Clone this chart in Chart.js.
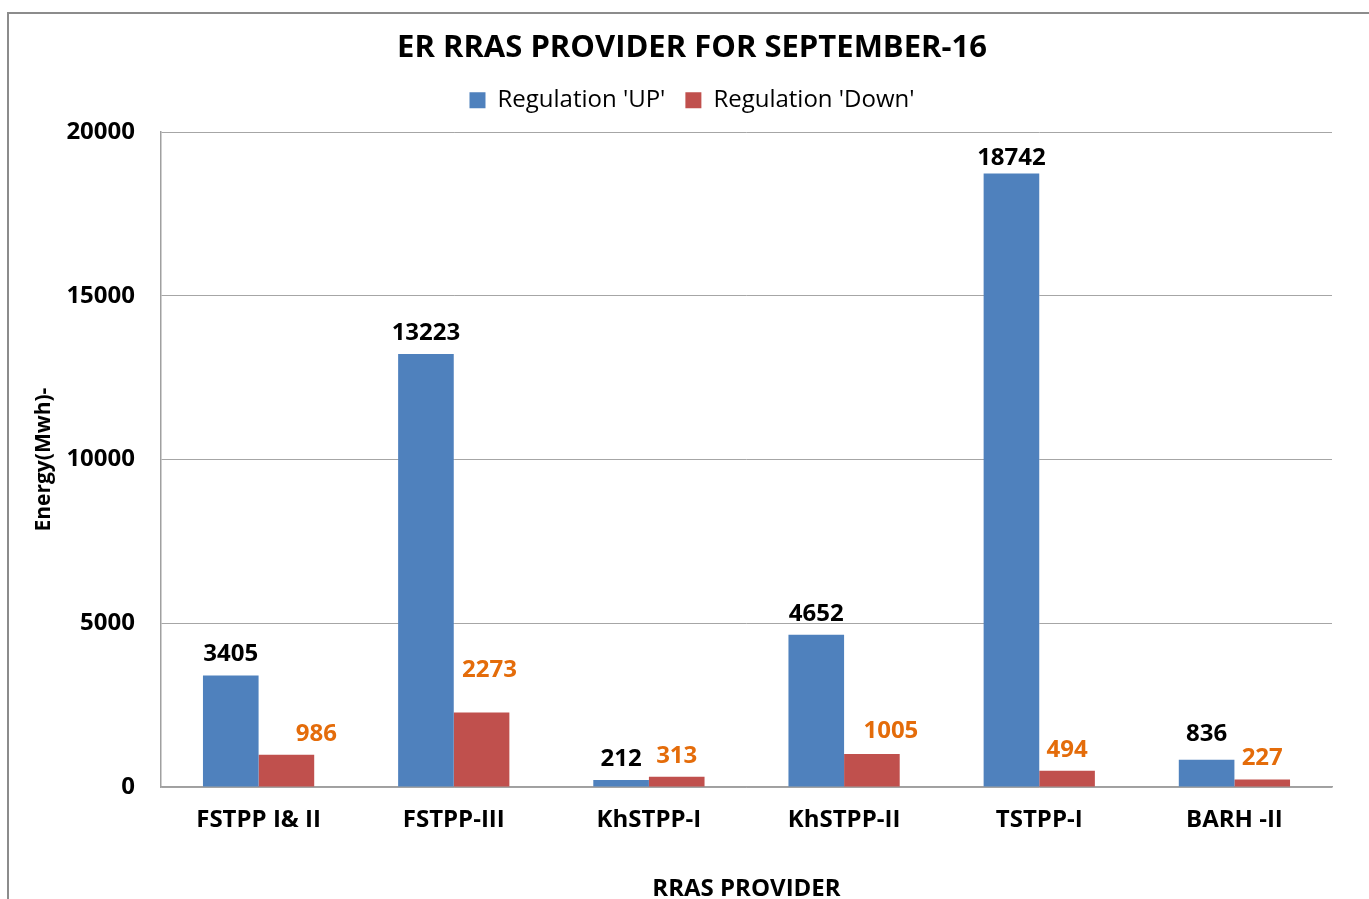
<!DOCTYPE html>
<html>
<head>
<meta charset="utf-8">
<script src="https://cdn.jsdelivr.net/npm/chart.js@4"></script>
<style>
  html, body { margin: 0; padding: 0; background: #fff; }
  #wrap { position: relative; width: 1369px; height: 899px; overflow: hidden; }
  #frame { position: absolute; left: 7px; top: 12px; width: 1400px; height: 950px;
           border-left: 2px solid #8c8c8c; border-top: 2px solid #8c8c8c; box-sizing: border-box; }
  canvas { position: absolute; left: 0; top: 0; }
</style>
</head>
<body>
<div id="wrap">
  <div id="frame"></div>
  <canvas id="chart" width="1369" height="899"></canvas>
</div>
<script>
// data
const providers = ['FSTPP I& II', 'FSTPP-III', 'KhSTPP-I', 'KhSTPP-II', 'TSTPP-I', 'BARH -II'];
const regUp = [3405, 13223, 212, 4652, 18742, 836];
const regDown = [986, 2273, 313, 1005, 494, 227];
const yTicks = [0, 5000, 10000, 15000, 20000];

const FONT = "'Open Sans', 'DejaVu Sans', sans-serif";

// value labels above each bar (nudge = hand-moved labels, in px)
const barLabels = {
    id: 'barLabels',
    afterDatasetsDraw(chart, args, opts) {
        const ctx = chart.ctx;
        ctx.save();
        ctx.font = 'bold 24px ' + FONT;
        ctx.textAlign = 'center';
        ctx.textBaseline = 'middle';
        chart.data.datasets.forEach((ds, i) => {
            const meta = chart.getDatasetMeta(i);
            const nudge = (opts.nudge && opts.nudge[i]) || [];
            ctx.fillStyle = ds.labelColor;
            meta.data.forEach((bar, j) => {
                const n = nudge[j] || [0, 0];
                ctx.fillText(ds.data[j], bar.x + n[0], bar.y - 21 + n[1]);
            });
        });
        ctx.restore();
    }
};

// a bit of space under the legend
const legendGap = {
    id: 'legendGap',
    beforeInit(chart) {
        const fit = chart.legend.fit;
        chart.legend.fit = function () {
            fit.call(this);
            this.height += 10;
        };
    }
};

new Chart(document.getElementById('chart'), {
    type: 'bar',
    data: {
        labels: providers,
        datasets: [{
            label: "Regulation 'UP'",
            data: regUp,
            backgroundColor: '#4F81BD',
            labelColor: '#000000',
            barPercentage: 1,
            categoryPercentage: 0.57
        }, {
            label: "Regulation 'Down'",
            data: regDown,
            backgroundColor: '#C0504D',
            labelColor: '#E46C0A',
            barPercentage: 1,
            categoryPercentage: 0.57
        }]
    },
    options: {
        responsive: false,
        animation: false,
        layout: {
            padding: { left: 15, right: 0, top: 30, bottom: 0 }
        },
        plugins: {
            title: {
                display: true,
                text: 'ER RRAS PROVIDER FOR SEPTEMBER-16',
                color: '#000',
                font: { family: FONT, size: 31, weight: 'bold' },
                padding: { top: 0, bottom: 1 }
            },
            legend: {
                display: true,
                labels: {
                    color: '#000',
                    font: { family: FONT, size: 24 },
                    boxWidth: 16,
                    boxHeight: 16,
                    padding: 20
                }
            },
            tooltip: { enabled: false },
            barLabels: {
                nudge: [
                    [[0, 0], [0, 0], [0, 0], [0, 0], [0, 6], [0, -4]],
                    [[30, 0], [8, -21], [0, 0], [19, -2], [0, 0], [0, 0]]
                ]
            }
        },
        scales: {
            x: {
                grid: { display: false, drawTicks: false },
                border: { display: true, color: '#a0a0a0', width: 1.5 },
                ticks: {
                    color: '#000',
                    font: { family: FONT, size: 24, weight: 'bold' },
                    padding: 19
                },
                title: {
                    display: true,
                    text: 'RRAS PROVIDER',
                    color: '#000',
                    font: { family: FONT, size: 24, weight: 'bold' },
                    padding: { top: 30, bottom: -5 }
                },
                afterFit(scale) { scale.height = 112; }
            },
            y: {
                min: 0,
                max: 20000,
                afterBuildTicks(scale) {
                    scale.ticks = yTicks.map(v => ({ value: v }));
                },
                grid: { color: '#a6a6a6', drawTicks: false, lineWidth: 1 },
                border: { display: true, color: '#a0a0a0', width: 1.5 },
                ticks: {
                    color: '#000',
                    font: { family: FONT, size: 24, weight: 'bold' },
                    padding: 26,
                    callback: v => String(v)
                },
                title: {
                    display: true,
                    text: 'Energy(Mwh)-',
                    color: '#000',
                    font: { family: FONT, size: 21, weight: 'bold' },
                    padding: { top: 16, bottom: 0 }
                },
                afterFit(scale) { scale.width = 146; }
            },
            // empty right-hand axis, only to keep the plot off the right edge
            yRight: {
                position: 'right',
                display: true,
                grid: { display: false, drawTicks: false },
                border: { display: false },
                ticks: { display: false },
                afterFit(scale) { scale.width = 37; }
            }
        }
    },
    plugins: [barLabels, legendGap]
});
</script>
</body>
</html>
